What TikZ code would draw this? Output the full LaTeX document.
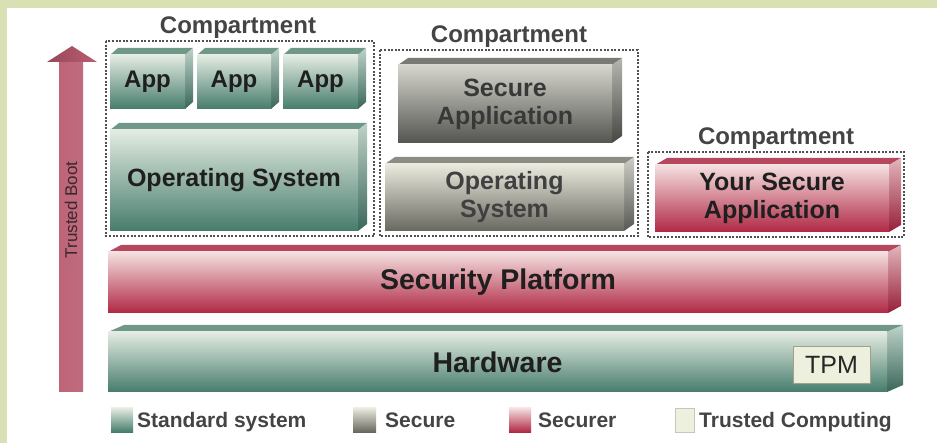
\documentclass[tikz,border=0pt]{standalone}
\usepackage{fontspec}
\setmainfont{Liberation Sans}
\definecolor{bordergreen}{RGB}{217,224,180}
\definecolor{gT}{RGB}{228,236,226}\definecolor{gM}{RGB}{160,190,176}\definecolor{gB}{RGB}{70,124,108}
\definecolor{gTop}{RGB}{112,152,137}\definecolor{gS1}{RGB}{190,210,200}\definecolor{gS2}{RGB}{58,102,90}
\definecolor{sT}{RGB}{234,234,222}\definecolor{sM}{RGB}{178,178,168}\definecolor{sB}{RGB}{104,104,96}
\definecolor{sTop}{RGB}{140,140,132}\definecolor{sS1}{RGB}{205,205,198}\definecolor{sS2}{RGB}{88,88,82}
\definecolor{dT}{RGB}{214,214,206}\definecolor{dM}{RGB}{152,152,146}\definecolor{dB}{RGB}{84,84,80}
\definecolor{dTop}{RGB}{122,122,116}\definecolor{dS1}{RGB}{182,182,176}\definecolor{dS2}{RGB}{70,70,66}
\definecolor{rT}{RGB}{244,224,224}\definecolor{rM}{RGB}{222,150,162}\definecolor{rB}{RGB}{176,40,68}
\definecolor{rTop}{RGB}{182,72,94}\definecolor{rS1}{RGB}{226,182,188}\definecolor{rS2}{RGB}{150,30,55}
\definecolor{cream}{RGB}{238,240,222}\definecolor{creamline}{RGB}{160,160,140}
\definecolor{labelgray}{RGB}{68,68,68}\definecolor{dotgray}{RGB}{80,80,80}
\tikzset{
  grnfront/.style={top color=gT, middle color=gM, bottom color=gB},
  grntop/.style={fill=gTop},
  grnside/.style={top color=gS1, bottom color=gS2},
  secfront/.style={top color=sT, middle color=sM, bottom color=sB},
  sectop/.style={fill=sTop},
  secside/.style={top color=sS1, bottom color=sS2},
  drkfront/.style={top color=dT, middle color=dM, bottom color=dB},
  drktop/.style={fill=dTop},
  drkside/.style={top color=dS1, bottom color=dS2},
  redfront/.style={top color=rT, middle color=rM, bottom color=rB},
  redtop/.style={fill=rTop},
  redside/.style={top color=rS1, bottom color=rS2},
  boxtext/.style={font=\bfseries\fontsize{25}{28}\selectfont, align=center, text=black!88, inner sep=0pt},
  apptext/.style={font=\bfseries\fontsize{24}{28}\selectfont, text=black!88, inner sep=0pt},
  layertext/.style={font=\bfseries\fontsize{28.5}{32}\selectfont, text=black!88, inner sep=0pt},
  comptext/.style={font=\bfseries\fontsize{24}{28}\selectfont, text=labelgray, inner sep=0pt, anchor=base},
  legtext/.style={font=\bfseries\fontsize{21}{24}\selectfont, text=labelgray, inner sep=0pt, anchor=base west},
  compbox/.style={draw=dotgray, line width=1.8pt, dash pattern=on 2pt off 1.6pt},
}
% #1 name, #2 x0, #3 y0, #4 x1, #5 y1, #6 depth x, #7 family, #8 text style, #9 text
\newcommand\blockbox[9]{%
  \fill[#7top] (#2,#3+7) -- (#2+#6,#3) -- (#4,#3) -- (#4-#6,#3+7) -- cycle;
  \shade[#7side] (#4-#6,#3+7) -- (#4,#3) -- (#4,#5-7) -- (#4-#6,#5) -- cycle;
  \shade[#7front] (#2,#3+7) rectangle (#4-#6,#5);
  \node[#8] (#1) at ({(#2+#4-#6)/2},{(#3+7+#5)/2}) {#9};
}
\begin{document}
\begin{tikzpicture}[x=1pt,y=-1pt]
\useasboundingbox (0,0) rectangle (937,443);
\fill[bordergreen] (0,0) rectangle (937,443);
\fill[white] (7,8) rectangle (937,443);

% Trusted boot arrow
\shade[left color={rgb,255:red,190;green,100;blue,120}, middle color={rgb,255:red,230;green,172;blue,180}, right color={rgb,255:red,192;green,108;blue,126}]
  (59,392) -- (59,61) -- (83,61) -- (83,392) -- cycle;
\shade[left color={rgb,255:red,150;green,72;blue,90}, right color={rgb,255:red,185;green,95;blue,112}]
  (47,62) -- (72,46) -- (97,62) -- cycle;
\node[rotate=90, font=\fontsize{17}{20}\selectfont, text={rgb,255:red,58;green,40;blue,46}, inner sep=0pt] (boot) at (71,210) {Trusted Boot};

% Compartment 1
\blockbox{app1}{110}{48}{193}{109}{8}{grn}{apptext}{App}
\blockbox{app2}{197}{48}{279}{109}{8}{grn}{apptext}{App}
\blockbox{app3}{283}{48}{366}{109}{8}{grn}{apptext}{App}
\blockbox{os1}{110}{123}{367}{231}{9}{grn}{boxtext}{Operating System}
\draw[compbox] (106,41) rectangle (374,236);
\node[comptext] (c1) at (238,34) {Compartment};

% Compartment 2
\blockbox{secapp}{398}{58}{622}{143}{10}{drk}{boxtext, text=black!78}{Secure\\Application}
\blockbox{os2}{385}{157}{634}{231}{10}{sec}{boxtext, text=black!75}{Operating\\System}
\draw[compbox] (380,50) rectangle (638,236);
\node[comptext] (c2) at (509,43) {Compartment};

% Compartment 3
\blockbox{ysa}{655}{158}{901}{232}{12}{red}{boxtext}{Your Secure\\Application}
\draw[compbox] (648,152) rectangle (904,237);
\node[comptext] (c3) at (776,145) {Compartment};

% Layers
\blockbox{secplat}{108}{245}{901}{313}{13}{red}{layertext}{Security Platform}
\blockbox{hw}{108}{325}{903}{392}{16}{grn}{layertext}{Hardware}
\node[draw=creamline, line width=0.8pt, fill=cream, minimum width=77pt, minimum height=37pt, inner sep=0pt,
      font=\fontsize{25}{28}\selectfont, text=black!85] (tpm) at (831.5,364.5) {TPM};

% Legend
\shade[grnfront] (111,408) rectangle (133,432);
\node[legtext] (l1) at (137,428) {Standard system};
\shade[secfront] (353,408) rectangle (376,432);
\node[legtext] (l2) at (385,428) {Secure};
\shade[redfront] (509,408) rectangle (531,432);
\node[legtext] (l3) at (538,428) {Securer};
\fill[cream] (675,408) rectangle (694,432);
\draw[creamline!60, line width=0.6pt] (675,408) rectangle (694,432);
\node[legtext] (l4) at (699,428) {Trusted Computing};
\end{tikzpicture}
\end{document}
